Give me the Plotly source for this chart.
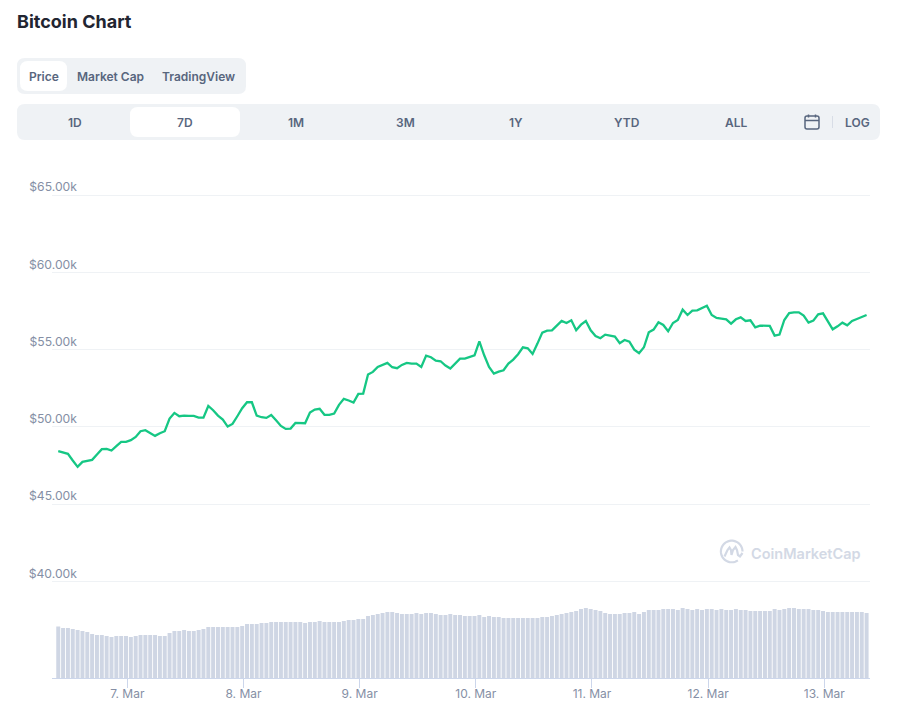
import numpy as np
import pandas as pd
import plotly.graph_objects as go

W, H = 902, 716

# --- data ---
price = [
    48428, 48342, 48256, 47825, 47416, 47739, 47782, 47868, 48213, 48557,
    48579, 48471, 48751, 49031, 49031, 49139, 49354, 49720, 49785, 49612,
    49419, 49591, 49720, 50538, 50904, 50689, 50732, 50711, 50711, 50603,
    50603, 51356, 51077, 50732, 50474, 50022, 50194, 50689, 51206, 51593,
    51593, 50732, 50624, 50581, 50775, 50431, 50065, 49871, 49892, 50258,
    50237, 50237, 50926, 51120,
    51168, 50780, 50780, 50866, 51426, 51814, 51706, 51577, 52136, 52158,
    53385, 53557, 53880, 54010, 54139, 53859, 53794, 54010, 54139, 54096,
    54096, 53880, 54612, 54505, 54290, 54246, 53967, 53773, 54096, 54419,
    54419, 54505, 54634, 55538, 54634, 53880, 53450, 53579, 53665, 54096,
    54354, 54699, 55151, 55086, 54720, 55388, 56098, 56227, 56249, 56550,
    56852, 56722, 56895, 56249, 56615, 56852, 56249, 55883,
    55732, 55969, 55926, 55840, 55409, 55624, 55517, 55000, 54763, 55151,
    56120, 56292, 56765, 56593, 56184, 56722, 56916, 57584, 57239, 57519,
    57541, 57670, 57842, 57239, 57045, 57002, 56959, 56679, 56959, 57088,
    56852, 56895, 56443, 56550, 56529, 56529, 55904, 55969, 56916, 57368,
    57411, 57411, 57196, 56744, 56873, 57282, 57347, 56809, 56313, 56507,
    56744, 56572, 56852, 56981, 57088, 57239,
]
volume = [
    51.7, 50.3, 50.3, 49.3, 48.3, 47.3, 46.3, 44.3, 43.3, 43.3,
    42.3, 41.3, 42.3, 42.3, 42.3, 41.3, 42.3, 43.3, 43.3, 43.3,
    43.3, 42.3, 42.3, 45.3, 47.3, 47.3, 48.3, 47.3, 47.3, 48.3,
    49.3, 51.3, 51.3, 51.3, 51.3, 51.3, 51.3, 51.3, 52.3, 54.3,
    54.3, 54.3, 55.3, 55.3, 56.3, 56.3, 56.3, 56.3, 56.3, 56.3,
    56.3, 55.3, 56.3, 56.3,
    57.3, 56.3, 56.3, 56.3, 56.3, 57.3, 58.3, 58.3, 59.3, 59.3,
    62.3, 63.3, 64.3, 65.3, 66.3, 66.3, 65.3, 64.3, 64.3, 64.3,
    65.3, 64.3, 65.3, 65.3, 64.3, 63.3, 63.3, 64.3, 63.3, 63.3,
    62.3, 62.3,
    62.3, 63.3, 61.3, 62.3, 61.3, 61.3, 60.3, 60.3, 60.3, 60.3,
    60.3, 60.3, 60.3, 60.3, 61.3, 61.3, 62.3, 63.3, 64.3, 65.3,
    66.3, 67.3, 69.3, 70.3, 69.3, 68.3, 67.3, 65.3, 64.3, 64.3, 64.3,
    65.3, 65.3, 66.3, 64.3, 66.3, 68.3, 68.3, 68.3, 69.3, 69.3,
    69.3, 68.3, 70.3, 69.3, 68.3, 69.3, 68.3, 69.3, 69.3, 68.3,
    69.3, 68.3, 68.3, 69.3, 68.3, 68.3, 67.3, 67.3, 67.3, 67.3,
    67.3, 69.3, 68.3, 69.3, 70.3, 70.3, 69.3, 69.3, 69.3, 68.3,
    68.3, 67.3, 66.3, 66.3, 66.3, 66.3, 66.3, 66.3, 66.3, 66.3,
    65.3, 66.3,
]
times = pd.date_range("2021-03-06 09:44", periods=len(price), freq="h")

y_ticks = [40000, 45000, 50000, 55000, 60000, 65000]
y_labels = ["$40.00k", "$45.00k", "$50.00k", "$55.00k", "$60.00k", "$65.00k"]
x_ticks = ["2021-03-07", "2021-03-08", "2021-03-09", "2021-03-10", "2021-03-11", "2021-03-12", "2021-03-13"]
x_labels = ["7. Mar", "8. Mar", "9. Mar", "10. Mar", "11. Mar", "12. Mar", "13. Mar"]
tabs = ["Price", "Market Cap", "TradingView"]
ranges = ["1D", "7D", "1M", "3M", "1Y", "YTD", "ALL", "LOG"]

FONT = "Inter"
PANEL = "#eff2f5"
UI_TEXT = "#58667e"
AXIS = "#ccd6eb"
LABEL = "#858fa5"
LOGO = "#d3d9e5"


# page pixels -> paper coords (margins are 0 so paper is the whole page)
def px(x):
    return x / W


def py(y):
    return 1 - y / H


def pt(x, y):
    return f"{px(x):.5f},{py(y):.5f}"


def round_rect(x0, y0, x1, y1, r, fill):
    path = (
        f"M{pt(x0 + r, y0)} L{pt(x1 - r, y0)} Q{pt(x1, y0)} {pt(x1, y0 + r)} "
        f"L{pt(x1, y1 - r)} Q{pt(x1, y1)} {pt(x1 - r, y1)} "
        f"L{pt(x0 + r, y1)} Q{pt(x0, y1)} {pt(x0, y1 - r)} "
        f"L{pt(x0, y0 + r)} Q{pt(x0, y0)} {pt(x0 + r, y0)} Z"
    )
    return dict(type="path", xref="paper", yref="paper", path=path, fillcolor=fill,
                line=dict(width=0), layer="below")


def stroke(points, color, width):
    path = "M" + " L".join(pt(x, y) for x, y in points)
    return dict(type="path", xref="paper", yref="paper", path=path,
                line=dict(color=color, width=width), layer="above")


def label(text, x, y, size=12, color=UI_TEXT, weight=600, anchor="center"):
    return dict(text=text, x=px(x), y=py(y), xref="paper", yref="paper", showarrow=False,
                xanchor=anchor, yanchor="middle",
                font=dict(family=FONT, size=size, color=color, weight=weight))


shapes = [
    round_rect(17, 58, 246, 94, 8, PANEL),
    round_rect(20, 61, 67, 91, 8, "#ffffff"),
    round_rect(17, 104, 880, 140, 8, PANEL),
    round_rect(130, 107, 240, 137, 8, "#ffffff"),
]

# calendar icon and separator
cal = round_rect(805, 116, 819, 129, 2, "rgba(0,0,0,0)")
cal.update(line=dict(color=UI_TEXT, width=1.5), layer="above")
shapes += [
    cal,
    stroke([(805, 120.5), (819, 120.5)], UI_TEXT, 1.5),
    stroke([(808.5, 114.5), (808.5, 117.5)], UI_TEXT, 1.5),
    stroke([(815.5, 114.5), (815.5, 117.5)], UI_TEXT, 1.5),
    stroke([(832.5, 116), (832.5, 128)], "#d8dde6", 1),
]

# watermark logo, ring open at the lower right
theta = np.radians(np.linspace(0, 305, 40))
arc = [(731.7 + 10.8 * np.cos(t), 551.5 - 10.8 * np.sin(t)) for t in theta]
shapes.append(stroke(arc, LOGO, 2.2))
shapes.append(stroke([(724.5, 556.5), (727.5, 550), (729.5, 547.5), (731, 550), (731.5, 555),
                      (733, 550), (735.5, 547), (737, 550), (738, 555), (740, 556.5), (742.5, 553)], LOGO, 2.2))

annotations = [
    label("Bitcoin Chart", 15, 21.5, size=18, color="#222531", weight=700, anchor="left"),
    label(tabs[0], 43.5, 76.5),
    label(tabs[1], 110, 76.5),
    label(tabs[2], 198, 76.5),
    label("CoinMarketCap", 749, 553, size=14.5, color=LOGO, weight=600, anchor="left"),
]
for name, cx in zip(ranges, [75, 185, 295.5, 405.7, 516, 626.5, 736.7, 857]):
    annotations.append(label(name, cx, 122.5))

fig = go.Figure()

fig.add_trace(go.Bar(x=times[:len(volume)], y=volume, yaxis="y2", marker=dict(color="#cfd6e4", line=dict(width=0)),
                     hoverinfo="skip"))
fig.add_trace(go.Scatter(x=times, y=price, mode="lines", line=dict(color="#16c784", width=2.3),
                         hoverinfo="skip"))

# 7 Mar sits at x=127.3, one day is 116.17 px
t0 = pd.Timestamp("2021-03-07")
x_lo = t0 + pd.Timedelta(days=(52 - 127.3) / 116.17)
x_hi = t0 + pd.Timedelta(days=(870 - 127.3) / 116.17)
# 65k at y=195, 40k at y=581.5
per_px = 25000 / (581.5 - 195)
y_lo = 40000 - (678.3 - 581.5) * per_px
y_hi = 65000 + (195 - 150) * per_px

fig.update_layout(
    width=W, height=H, margin=dict(l=0, r=0, t=0, b=0), autosize=False,
    paper_bgcolor="#ffffff", plot_bgcolor="rgba(0,0,0,0)",
    showlegend=False, bargap=0.18, hovermode=False,
    shapes=shapes, annotations=annotations,
    font=dict(family=FONT, size=12, color=LABEL),
    xaxis=dict(
        domain=[px(52), px(870)], range=[x_lo, x_hi], type="date", anchor="y",
        tickvals=x_ticks, ticktext=x_labels, ticks="outside", ticklen=9, tickwidth=1,
        tickcolor=AXIS, showgrid=False, showline=True, linecolor=AXIS, linewidth=1,
        zeroline=False, ticklabelstandoff=-5, tickfont=dict(family=FONT, size=12, color=LABEL),
    ),
    yaxis=dict(
        domain=[py(678.3), py(150)], range=[y_lo, y_hi], anchor="x",
        tickvals=y_ticks, ticktext=y_labels, showgrid=True, gridcolor=PANEL, gridwidth=1,
        zeroline=False, showline=False, ticks="", ticklabelstandoff=-26, ticklabelshift=-8,
        tickfont=dict(family=FONT, size=12.2, color=LABEL),
    ),
    yaxis2=dict(
        domain=[py(678.3), py(578.3)], range=[0, 100], anchor="x", visible=False,
    ),
)

fig.write_html("out.html", config=dict(displayModeBar=False),
               post_script="document.body.style.margin='0';")
